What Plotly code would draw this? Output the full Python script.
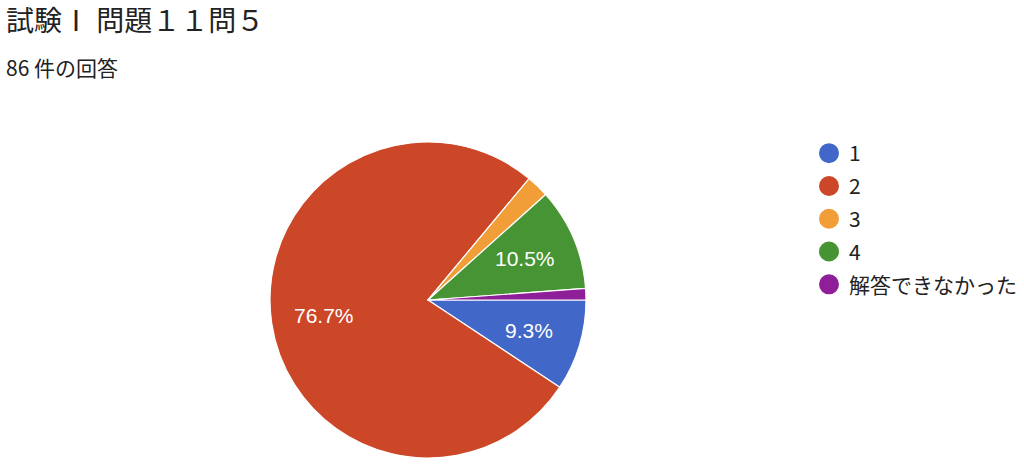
import math
import plotly.graph_objects as go

categories = ["1", "2", "3", "4", "解答できなかった"]
counts = [8, 66, 2, 9, 1]
colors = ["#4167c8", "#cc4727", "#f19d38", "#469434", "#8e1f99"]
label_show = [True, True, False, True, False]

title_text = "試験Ⅰ 問題１１問５"
subtitle_text = "86 件の回答"

W, H = 1024, 469
CX, CY, R = 428, 300, 158  # pie centre / radius in pixels
LABEL_FRAC = 0.665

fig = go.Figure()
fig.add_trace(go.Pie(
    labels=categories,
    values=counts,
    sort=False,
    direction="clockwise",
    rotation=90,
    marker=dict(colors=colors, line=dict(color="white", width=1.2)),
    textinfo="none",
    showlegend=False,
    hoverinfo="label+percent",
    domain=dict(x=[(CX - R) / W, (CX + R) / W], y=[1 - (CY + R) / H, 1 - (CY - R) / H]),
))

for i, (c, col) in enumerate(zip(categories, colors)):
    fig.add_trace(go.Scatter(
        x=[None], y=[None], mode="markers", name=c,
        marker=dict(symbol="circle", size=16, color=col, line=dict(color=col, width=4)),
        legendgroup=f"g{i}", showlegend=True,
    ))

# percentage labels placed along each slice's mid-angle (derived from the data)
total = sum(counts)
annotations = []
cum = 0
for c, v, show in zip(categories, counts, label_show):
    mid = (cum + v / 2) / total
    cum += v
    if not show:
        continue
    ang = mid * 2 * math.pi  # clockwise from 3 o'clock (screen coordinates)
    px = CX + LABEL_FRAC * R * math.cos(ang)
    py = CY + LABEL_FRAC * R * math.sin(ang)
    annotations.append(dict(
        text=f"{v / total * 100:.1f}%", x=px / W, y=1 - py / H, xref="paper", yref="paper",
        xanchor="center", yanchor="middle", showarrow=False,
        font=dict(family="Liberation Sans, Arial", size=21, color="white"),
    ))

annotations += [
    dict(text=title_text, x=4 / W, y=1 - 19 / H, xref="paper", yref="paper",
         xanchor="left", yanchor="middle", showarrow=False,
         font=dict(family="Noto Sans CJK JP", size=28, color="#222222")),
    dict(text=subtitle_text, x=4 / W, y=1 - 67 / H, xref="paper", yref="paper",
         xanchor="left", yanchor="middle", showarrow=False,
         font=dict(family="Noto Sans CJK JP", size=21, color="#222222")),
]

fig.update_layout(
    width=W, height=H,
    margin=dict(l=0, r=0, t=0, b=0),
    paper_bgcolor="white", plot_bgcolor="white",
    xaxis=dict(visible=False), yaxis=dict(visible=False),
    legend=dict(
        x=809 / W, y=1 - 133 / H, xanchor="left", yanchor="top",
        font=dict(family="Noto Sans CJK JP", size=21, color="#222222"),
        tracegroupgap=2.5, bgcolor="rgba(0,0,0,0)",
    ),
    annotations=annotations,
)

fig.write_html("out.html", config={"displayModeBar": False},
               post_script="document.body.style.margin='0';")
